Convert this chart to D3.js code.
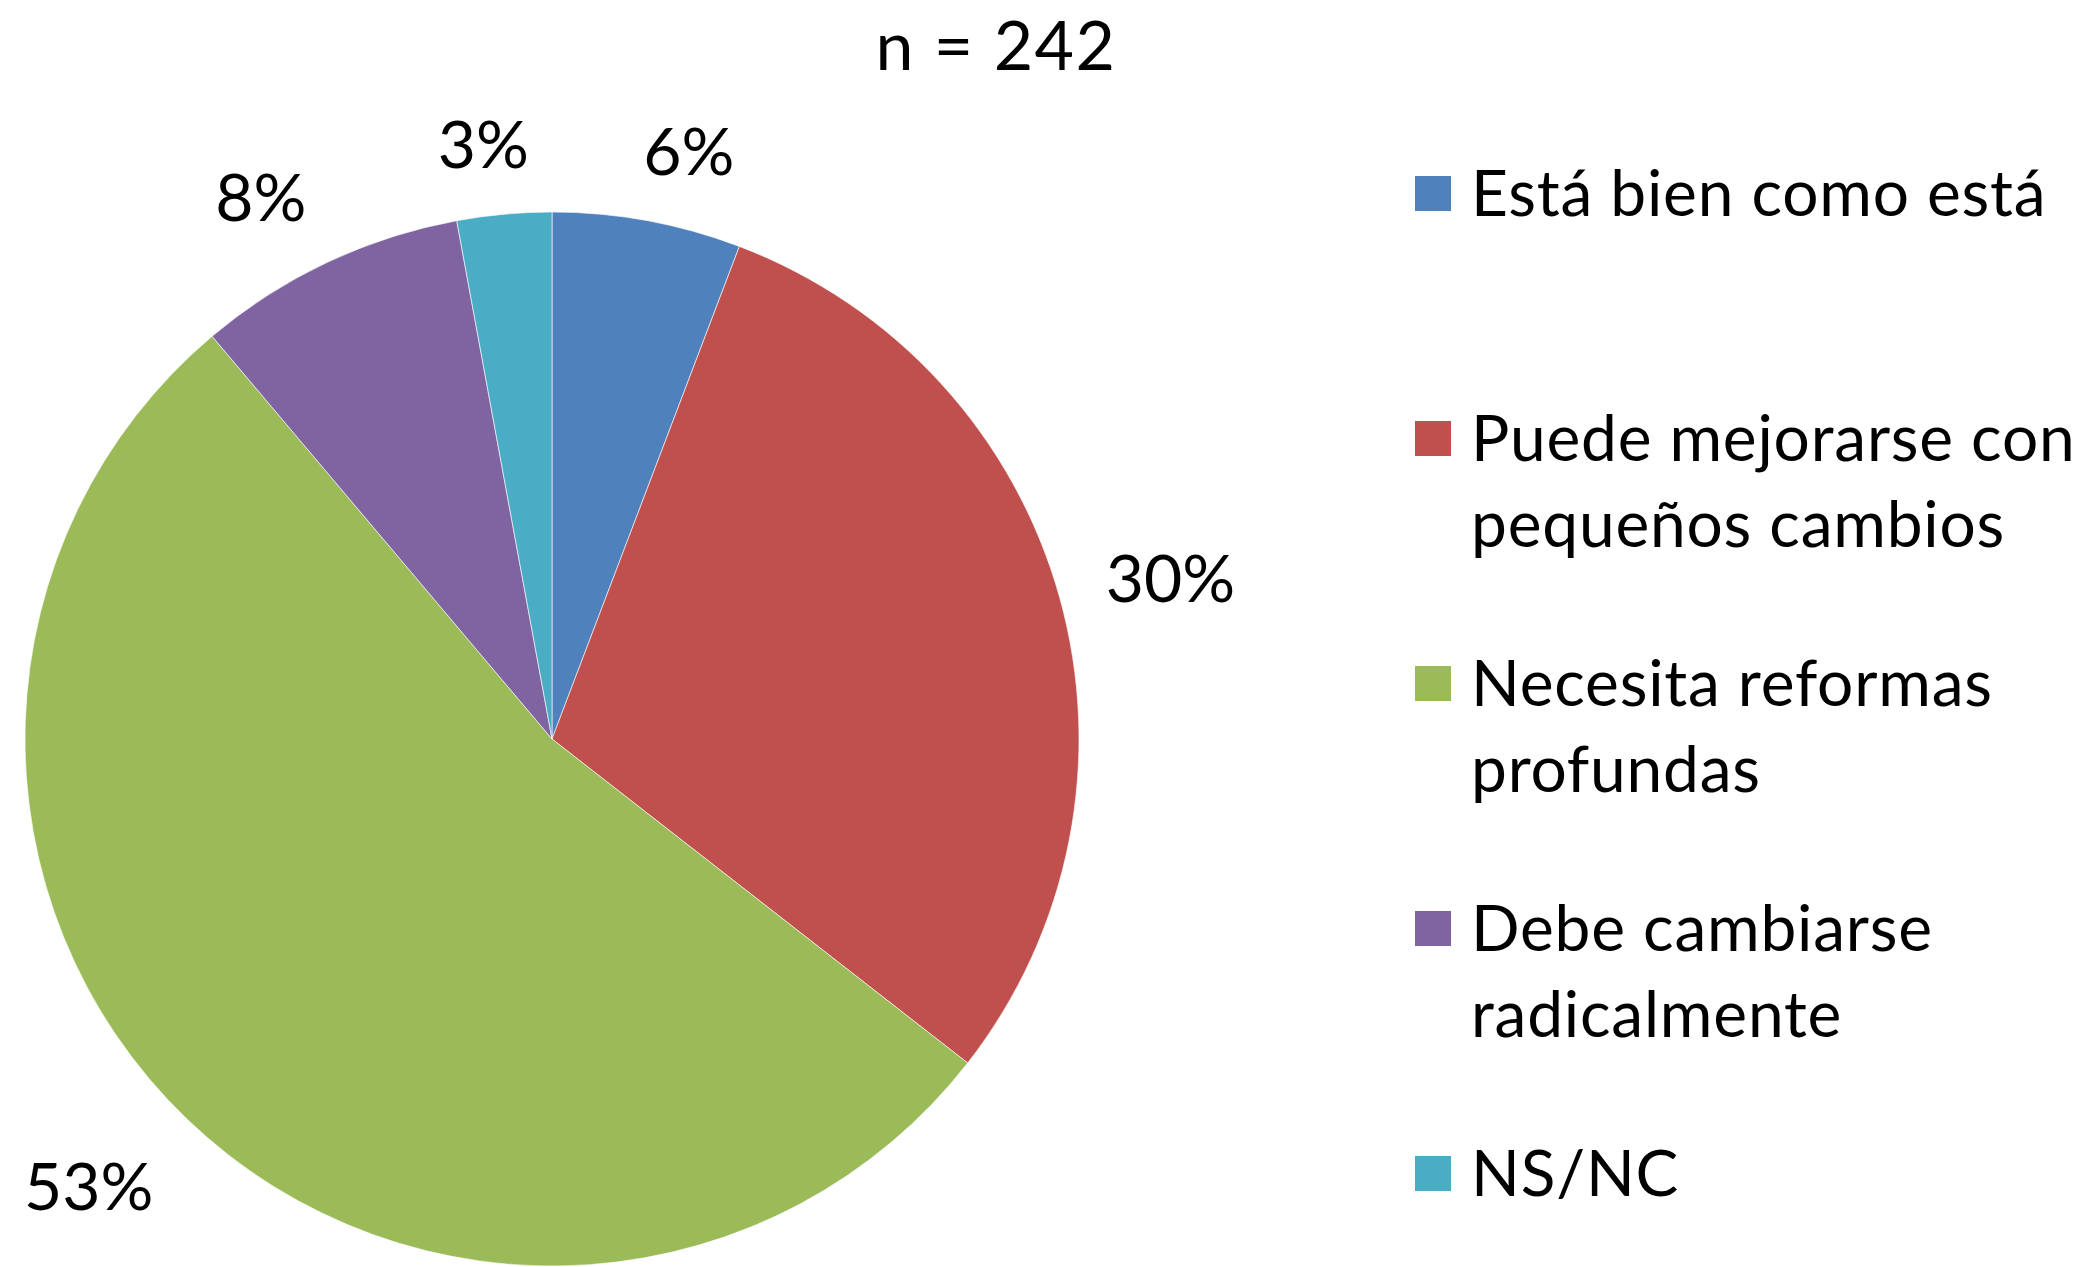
<!DOCTYPE html>
<html><head><meta charset="utf-8">
<script src="https://cdn.jsdelivr.net/npm/d3@7"></script>
<style>body{margin:0;background:#fff}svg{display:block}</style>
</head><body>
<script>
const title = "n = 242";
const categories = ["Está bien como está","Puede mejorarse con pequeños cambios","Necesita reformas profundas","Debe cambiarse radicalmente","NS/NC"];
const legendLines = [["Está bien como está"],["Puede mejorarse con","pequeños cambios"],["Necesita reformas","profundas"],["Debe cambiarse","radicalmente"],["NS/NC"]];
const values = [14,72,129,20,7];   // respondents (n = 242)
const colors = ["#4F81BD","#C0504D","#9BBB59","#8064A2","#4BACC6"];

const W=2087,H=1267;
const svg=d3.select("body").append("svg").attr("width",W).attr("height",H);
const font="Lato, 'Open Sans', sans-serif";

svg.append("text").attr("x",996).attr("y",70).attr("text-anchor","middle")
  .attr("font-family",font).attr("font-size",68).attr("letter-spacing",1.5).attr("fill","#000").text(title);

const cx=552, cy=739, R=527;
const pie=d3.pie().sort(null).value(d=>d)(values);
const arc=d3.arc().innerRadius(0).outerRadius(R);
const g=svg.append("g").attr("transform",`translate(${cx},${cy})`);
g.selectAll("path").data(pie).join("path").attr("d",arc)
  .attr("fill",(d,i)=>colors[i]).attr("stroke","#fff").attr("stroke-width",1).attr("stroke-opacity",0.6);

const total=d3.sum(values);
const rl=R+48;
g.selectAll("text.lbl").data(pie).join("text").attr("class","lbl")
  .attr("font-family",font).attr("font-size",66).attr("fill","#000")
  .attr("text-anchor","middle").attr("dominant-baseline","central")
  .text(d=>Math.round(d.value/total*100)+"%")
  .each(function(d){
    const bb=this.getBBox();
    const a=(d.startAngle+d.endAngle)/2;
    const s=Math.sin(a), c=-Math.cos(a);
    const fx=Math.sign(s)*Math.min(1,Math.abs(s)*4);
    const fy=Math.sign(c)*Math.min(1,Math.abs(c)*1.2);
    const extra=c>0?14:0;
    d3.select(this).attr("x",rl*s+fx*bb.width/2).attr("y",rl*c+fy*24+extra*c);
  });

const leg=svg.append("g");
const pitch=245, y0=193;
categories.forEach((cat,i)=>{
  const yc=y0+i*pitch;
  leg.append("rect").attr("x",1415).attr("y",yc-17).attr("width",36).attr("height",35).attr("fill",colors[i]);
  const t=leg.append("text").attr("font-family",font).attr("font-size",64).attr("letter-spacing",0.8).attr("fill","#000");
  legendLines[i].forEach((ln,j)=>{
    t.append("tspan").attr("x",1471).attr("y",yc+23+j*86).text(ln);
  });
});
</script>
</body></html>
